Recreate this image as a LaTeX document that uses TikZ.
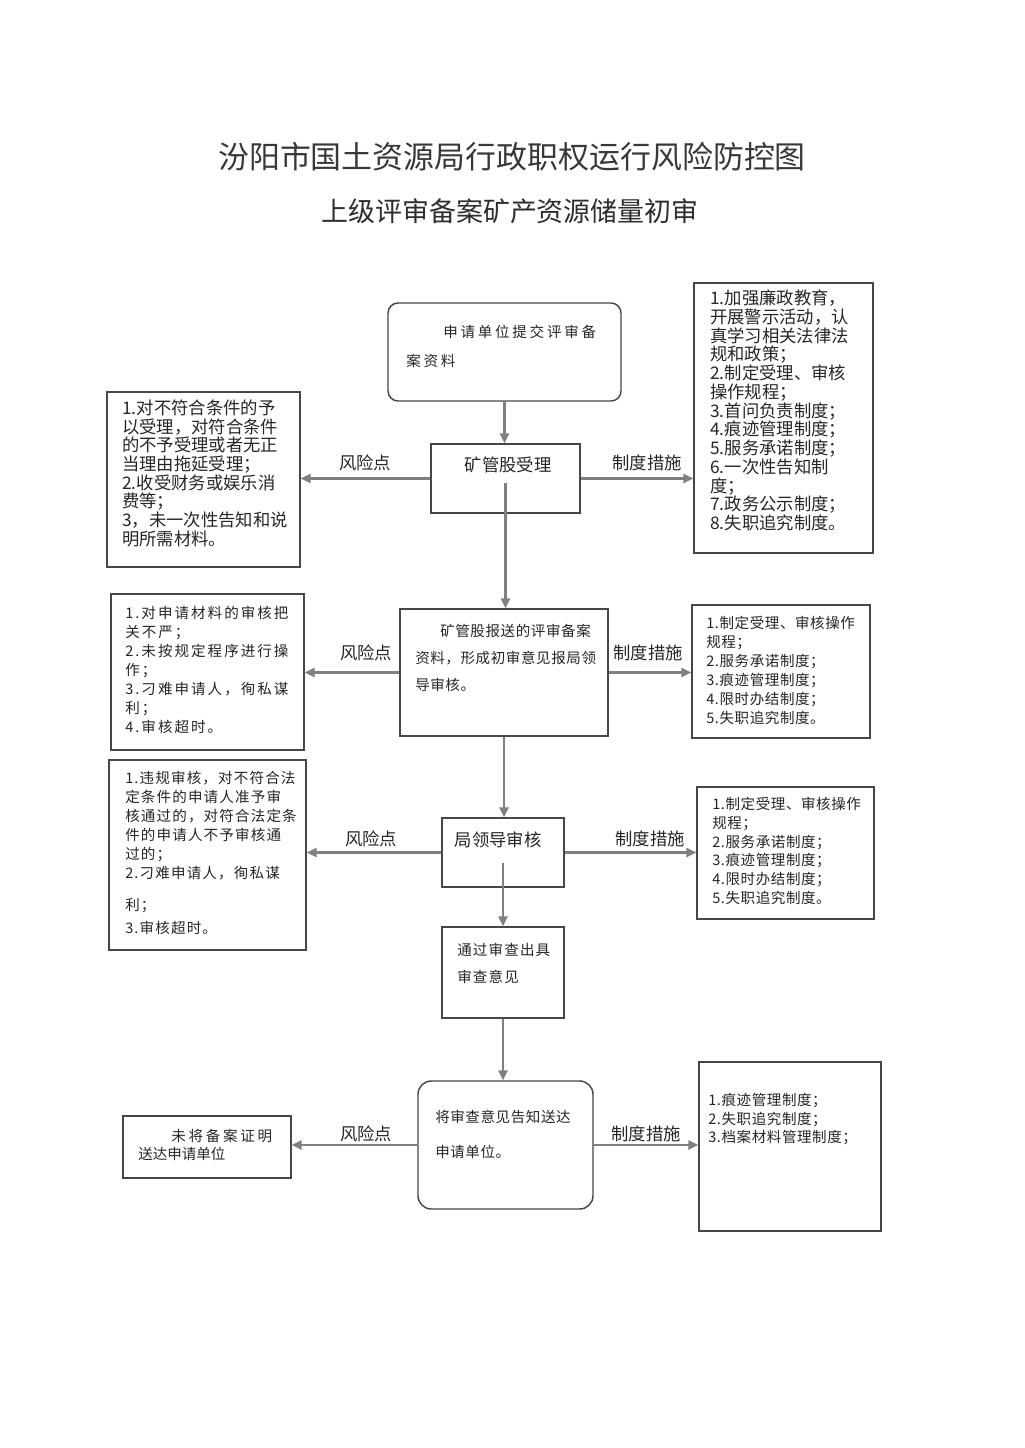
\documentclass[tikz,border=0pt]{standalone}
\usepackage{fontspec}
\setmainfont{Noto Sans CJK SC}
\newfontfamily\cjk{Noto Sans CJK SC}
\newfontfamily\cjka{Noto Sans CJK SC}[LetterSpace=4]
\newfontfamily\cjkb{Noto Sans CJK SC}[LetterSpace=8]
\newfontfamily\cjkc{Noto Sans CJK SC}[LetterSpace=14]
\newfontfamily\cjkd{Noto Sans CJK SC}[LetterSpace=19]
\usetikzlibrary{fit,arrows.meta}
\tikzset{
  box/.style={draw=black!72, line width=1.1pt, inner sep=0pt},
  rbox/.style={box, rounded corners=8pt},
  arr/.style={draw=black!50, line width=1.6pt, -{Triangle[length=7.5pt,width=7pt]}},
  txt/.style={inner sep=0pt, align=left, anchor=base west, text=black!85},
  bigtxt/.style={txt, font=\cjk\fontsize{13pt}{14.06pt}\selectfont},
  lbl/.style={inner sep=0pt, anchor=base, text=black!85, font=\cjk\fontsize{13pt}{14pt}\selectfont},
}
\begin{document}
\begin{tikzpicture}[x=0.75pt,y=-0.75pt]
\fill[white] (0,0) rectangle (1024,1448);
\useasboundingbox (0,0) rectangle (1024,1448);

% titles
\node[inner sep=0pt, anchor=base, text=black!78, font=\cjk\fontsize{23.2pt}{26pt}\selectfont] (title) at (512,169) {汾阳市国土资源局行政职权运行风险防控图};
\node[inner sep=0pt, anchor=base, text=black!82, font=\cjk\fontsize{20.2pt}{24pt}\selectfont] (subtitle) at (510,222) {上级评审备案矿产资源储量初审};

% boxes
\node[rbox, fit={(388,303) (621,401)}, rounded corners=7.5pt] (A) {};
\node[box, fit={(431,444) (580,513)}] (B) {};
\node[box, fit={(107,392) (300,567)}] (L1) {};
\node[box, fit={(694,283) (873,553)}] (R1) {};
\node[box, fit={(400,609) (608,736)}] (C) {};
\node[box, fit={(111,594) (304,750)}] (L2) {};
\node[box, fit={(692,605) (870,738)}] (R2) {};
\node[box, fit={(442,818) (564,887)}] (D) {};
\node[box, fit={(109,760) (306,950)}] (L3) {};
\node[box, fit={(697,787) (874,919)}] (R3) {};
\node[box, fit={(442,927) (564,1018)}] (E) {};
\node[rbox, fit={(418,1081) (593,1209)}, rounded corners=10pt] (F) {};
\node[box, fit={(123,1116) (291,1178)}] (L4) {};
\node[box, fit={(699,1062) (881,1231)}] (R4) {};

% texts (anchor = baseline of the last line)
\node[txt, font=\cjkd\fontsize{10.9pt}{21.75pt}\selectfont] (tA) at (406,366.5) {\hspace*{27.75pt}申请单位提交评审备\\案资料};
\node[lbl] (tB) at (508,471.6) {矿管股受理};
\node[bigtxt, font=\cjk\fontsize{13pt}{14pt}\selectfont] (tL1) at (122,545.3) {1.对不符合条件的予\\以受理，对符合条件\\的不予受理或者无正\\当理由拖延受理；\\2.收受财务或娱乐消\\费等；\\3，未一次性告知和说\\明所需材料。};
\node[bigtxt] (tR1) at (710,529.6) {1.加强廉政教育，\\开展警示活动，认\\真学习相关法律法\\规和政策；\\2.制定受理、审核\\操作规程；\\3.首问负责制度；\\4.痕迹管理制度；\\5.服务承诺制度；\\6.一次性告知制\\度；\\7.政务公示制度；\\8.失职追究制度。};

\node[txt, font=\cjka\fontsize{10.9pt}{20.25pt}\selectfont] (tC) at (415,690.5) {\hspace*{18.75pt}矿管股报送的评审备案\\资料，形成初审意见报局领\\导审核。};
\node[txt, font=\cjkc\fontsize{10.9pt}{14.25pt}\selectfont] (tL2) at (125,732.5) {1.对申请材料的审核把\\关不严；\\2.未按规定程序进行操\\作；\\3.刁难申请人，徇私谋\\利；\\4.审核超时。};
\node[txt, font=\cjka\fontsize{10.9pt}{14.25pt}\selectfont] (tR2) at (706,723.5) {1.制定受理、审核操作\\规程；\\2.服务承诺制度；\\3.痕迹管理制度；\\4.限时办结制度；\\5.失职追究制度。};

\node[lbl] (tD) at (498,846.6) {局领导审核};
\node[txt, font=\cjkb\fontsize{10.9pt}{14.25pt}\selectfont] (tL3) at (125,933.5) {1.违规审核，对不符合法\\定条件的申请人准予审\\核通过的，对符合法定条\\件的申请人不予审核通\\过的；\\2.刁难申请人，徇私谋\\[9.75pt]利；\\[3pt]3.审核超时。};
\node[txt, font=\cjka\fontsize{10.9pt}{14.1pt}\selectfont] (tR3) at (712,903.5) {1.制定受理、审核操作\\规程；\\2.服务承诺制度；\\3.痕迹管理制度；\\4.限时办结制度；\\5.失职追究制度。};

\node[txt, font=\cjkb\fontsize{10.9pt}{20.25pt}\selectfont] (tE) at (457,982.5) {通过审查出具\\审查意见};
\node[txt, font=\cjka\fontsize{10.9pt}{26.25pt}\selectfont] (tF) at (435,1157.5) {将审查意见告知送达\\申请单位。};
\node[txt, font=\fontsize{10.9pt}{13.5pt}\selectfont] (tL4) at (138,1159.5) {\hspace*{24.75pt}{\cjkd 未将备案证明}\\{\cjk 送达申请单位}};
\node[txt, font=\cjka\fontsize{10.9pt}{13.9pt}\selectfont] (tR4) at (708,1142.6) {1.痕迹管理制度；\\2.失职追究制度；\\3.档案材料管理制度；};

% labels
\node[lbl] (r1) at (365,469.6) {风险点};
\node[lbl] (m1) at (647,469.6) {制度措施};
\node[lbl] (r2) at (366,659.6) {风险点};
\node[lbl] (m2) at (648,659.6) {制度措施};
\node[lbl] (r3) at (371,845.6) {风险点};
\node[lbl] (m3) at (650,845.6) {制度措施};
\node[lbl] (r4) at (366,1140.6) {风险点};
\node[lbl] (m4) at (646,1140.6) {制度措施};

% vertical connectors
\draw[arr] (A.south) -- (A.south |- B.north);
\draw[arr] ([yshift=23.25pt]B.south) -- (B.south |- C.north);
\draw[arr] (C.south) -- (C.south |- D.north);
\draw[arr] ([yshift=18.75pt]D.south) -- (D.south |- E.north);
\draw[arr] (E.south) -- (E.south |- F.north);

% horizontal connectors
\draw[arr] (B.west) -- (B.west -| L1.east);
\draw[arr] (B.east) -- (B.east -| R1.west);
\draw[arr] (C.west) -- (C.west -| L2.east);
\draw[arr] (C.east) -- (C.east -| R2.west);
\draw[arr] (D.west) -- (D.west -| L3.east);
\draw[arr] (D.east) -- (D.east -| R3.west);
\draw[arr] (F.west) -- (F.west -| L4.east);
\draw[arr] (F.east) -- (F.east -| R4.west);
\end{tikzpicture}
\end{document}
